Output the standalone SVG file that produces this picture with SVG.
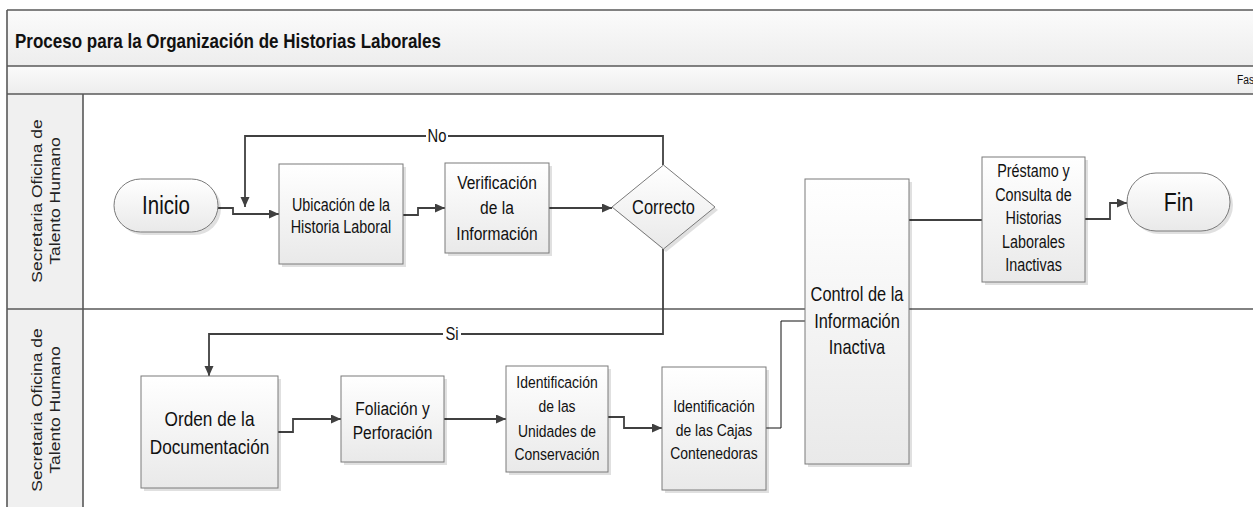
<svg xmlns="http://www.w3.org/2000/svg" width="1253" height="507" viewBox="0 0 1253 507">
<style>
.lane{stroke:#595959;stroke-width:1.6;fill:none}
.node{fill:url(#ng);stroke:#7a7a7a;stroke-width:1}
.sh{fill:#000;opacity:0.12}
.t{font-family:"Liberation Sans",Arial,sans-serif;fill:#111;text-anchor:middle}
.lt{font-family:"Liberation Sans",Arial,sans-serif;fill:#222;text-anchor:middle;font-size:17.5px}
.c{fill:none;stroke:#404040;stroke-width:1.8}
.lbl{font-family:"Liberation Sans",Arial,sans-serif;fill:#111;text-anchor:middle;font-size:18px}
</style>
<defs>
<linearGradient id="ng" x1="0" y1="0" x2="0" y2="1"><stop offset="0" stop-color="#ffffff"/><stop offset="1" stop-color="#e9e9e9"/></linearGradient>
<linearGradient id="hg" x1="0" y1="0" x2="0" y2="1"><stop offset="0" stop-color="#fbfbfb"/><stop offset="1" stop-color="#ededed"/></linearGradient>
<marker id="ar" markerWidth="11" markerHeight="10" refX="10" refY="4.5" orient="auto" markerUnits="userSpaceOnUse"><path d="M0,0 L10,4.5 L0,9 z" fill="#404040"/></marker>
</defs>
<rect width="1253" height="507" fill="#ffffff"/>
<g id="pool">
<rect x="7" y="10" width="1250" height="56" fill="url(#hg)"/>
<rect x="7" y="66" width="1250" height="28" fill="url(#hg)"/>
<rect x="7" y="94" width="76" height="420" fill="#f0f0f0"/>
<path class="lane" d="M7,10 H1253 M7,10 V507 M7,66 H1253 M7,94 H1253 M7,309 H1253 M83,94 V507"/>
<g transform="matrix(0.81,0,0,1,15,48)"><text x="0" y="0" font-family="'Liberation Sans',Arial,sans-serif" font-weight="bold" font-size="21" fill="#111">Proceso para la Organización de Historias Laborales</text></g>
<g transform="matrix(0.82,0,0,1,1237,84)"><text x="0" y="0" font-family="'Liberation Sans',Arial,sans-serif" font-size="12.5" fill="#111">Fase</text></g>
</g>
<g id="lane1">
<text class="lt" transform="translate(42,201) rotate(-90) scale(1,0.82)">Secretaria Oficina de</text>
<text class="lt" transform="translate(60,201) rotate(-90) scale(1,0.82)">Talento Humano</text>
</g>
<g id="lane2">
<text class="lt" transform="translate(42,410) rotate(-90) scale(1,0.82)">Secretaria Oficina de</text>
<text class="lt" transform="translate(60,410) rotate(-90) scale(1,0.82)">Talento Humano</text>
</g>
<g id="connectors">
<path class="c" d="M218,208 H233 V214 H279" marker-end="url(#ar)"/>
<path class="c" d="M663,165 V136 H245 V207" marker-end="url(#ar)"/>
<path class="c" d="M403,215 H418 V208 H445" marker-end="url(#ar)"/>
<path class="c" d="M549,208 H612" marker-end="url(#ar)"/>
<path class="c" d="M663,249 V334 H209 V376" marker-end="url(#ar)"/>
<path class="c" d="M278,432 H293 V419 H341" marker-end="url(#ar)"/>
<path class="c" d="M444,419 H506" marker-end="url(#ar)"/>
<path class="c" d="M608,417 H624 V428 H662" marker-end="url(#ar)"/>
<path d="M766,428 H781 V321 H805" fill="none" stroke="#111" stroke-width="1"/>
<path class="c" d="M909,220 H982"/>
<path class="c" d="M1085,219 H1110 V203 H1127" marker-end="url(#ar)"/>
<rect x="426" y="128" width="22" height="16" fill="#fff"/>
<g transform="matrix(0.82,0,0,1,437,142)"><text class="lbl" x="0" y="0">No</text></g>
<rect x="443" y="326" width="18" height="16" fill="#fff"/>
<g transform="matrix(0.82,0,0,1,452,340)"><text class="lbl" x="0" y="0">Si</text></g>
</g>
<g id="inicio">
<rect class="sh" x="117" y="182" width="104" height="53" rx="26.5"/>
<rect class="node" x="114" y="179" width="104" height="53" rx="26.5"/>
<g transform="matrix(0.82,0,0,1,166,0)"><text class="t" x="0" y="214" font-size="25">Inicio</text></g>
</g>
<g id="ubicacion">
<rect class="sh" x="282" y="167" width="124" height="100"/>
<rect class="node" x="279" y="164" width="124" height="100"/>
<g transform="matrix(0.82,0,0,1,341,0)">
<text class="t" x="0" y="211" font-size="17.5">Ubicación de la</text>
<text class="t" x="0" y="233" font-size="17.5">Historia Laboral</text>
</g>
</g>
<g id="verificacion">
<rect class="sh" x="448" y="166" width="104" height="90"/>
<rect class="node" x="445" y="163" width="104" height="90"/>
<g transform="matrix(0.82,0,0,1,497,0)">
<text class="t" x="0" y="189" font-size="19">Verificación</text>
<text class="t" x="0" y="214" font-size="19">de la</text>
<text class="t" x="0" y="240" font-size="19">Información</text>
</g>
</g>
<g id="correcto">
<path class="sh" d="M666,168 L718,210 L666,252 L615,210 z"/>
<path class="node" d="M663.5,165 L715,207 L663.5,249 L612,207 z"/>
<g transform="matrix(0.82,0,0,1,663.5,0)"><text class="t" x="0" y="214" font-size="20">Correcto</text></g>
</g>
<g id="control">
<rect class="sh" x="808" y="182" width="104" height="285"/>
<rect class="node" x="805" y="179" width="104" height="285"/>
<g transform="matrix(0.82,0,0,1,857,0)">
<text class="t" x="0" y="301" font-size="20">Control de la</text>
<text class="t" x="0" y="328" font-size="20">Información</text>
<text class="t" x="0" y="354" font-size="20">Inactiva</text>
</g>
</g>
<g id="prestamo">
<rect class="sh" x="985" y="160" width="103" height="125"/>
<rect class="node" x="982" y="157" width="103" height="125"/>
<g transform="matrix(0.82,0,0,1,1033.5,0)">
<text class="t" x="0" y="177" font-size="17.5">Préstamo y</text>
<text class="t" x="0" y="201" font-size="17.5">Consulta de</text>
<text class="t" x="0" y="224" font-size="17.5">Historias</text>
<text class="t" x="0" y="248" font-size="17.5">Laborales</text>
<text class="t" x="0" y="271" font-size="17.5">Inactivas</text>
</g>
</g>
<g id="fin">
<rect class="sh" x="1130" y="176" width="103" height="58" rx="29"/>
<rect class="node" x="1127" y="173" width="103" height="58" rx="29"/>
<g transform="matrix(0.82,0,0,1,1178.5,0)"><text class="t" x="0" y="211" font-size="26">Fin</text></g>
</g>
<g id="orden">
<rect class="sh" x="144" y="379" width="137" height="112"/>
<rect class="node" x="141" y="376" width="137" height="112"/>
<g transform="matrix(0.82,0,0,1,209.5,0)">
<text class="t" x="0" y="426" font-size="21">Orden de la</text>
<text class="t" x="0" y="454" font-size="21">Documentación</text>
</g>
</g>
<g id="foliacion">
<rect class="sh" x="344" y="379" width="103" height="86"/>
<rect class="node" x="341" y="376" width="103" height="86"/>
<g transform="matrix(0.82,0,0,1,392.5,0)">
<text class="t" x="0" y="415" font-size="19">Foliación y</text>
<text class="t" x="0" y="439" font-size="19">Perforación</text>
</g>
</g>
<g id="unidades">
<rect class="sh" x="509" y="369" width="102" height="106"/>
<rect class="node" x="506" y="366" width="102" height="106"/>
<g transform="matrix(0.82,0,0,1,557,0)">
<text class="t" x="0" y="388" font-size="17">Identificación</text>
<text class="t" x="0" y="412" font-size="17">de las</text>
<text class="t" x="0" y="437" font-size="17">Unidades de</text>
<text class="t" x="0" y="460" font-size="17">Conservación</text>
</g>
</g>
<g id="cajas">
<rect class="sh" x="665" y="370" width="104" height="123"/>
<rect class="node" x="662" y="367" width="104" height="123"/>
<g transform="matrix(0.82,0,0,1,714,0)">
<text class="t" x="0" y="412" font-size="17">Identificación</text>
<text class="t" x="0" y="436" font-size="17">de las Cajas</text>
<text class="t" x="0" y="459" font-size="17">Contenedoras</text>
</g>
</g>
</svg>
